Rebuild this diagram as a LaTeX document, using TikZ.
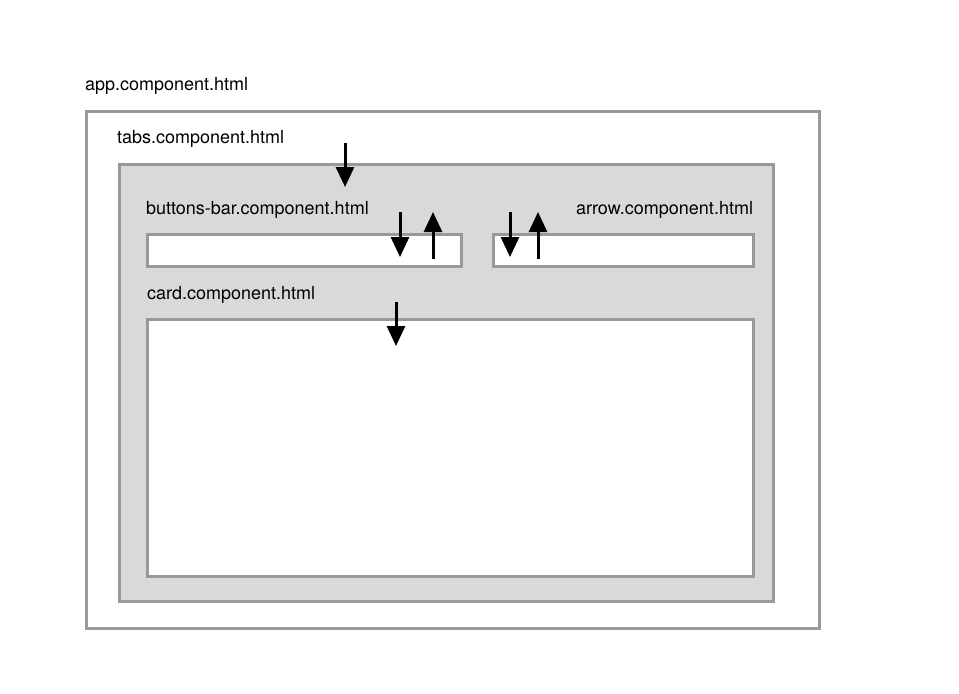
\documentclass[tikz,border=0pt]{standalone}
\usepackage{fontspec}
\setmainfont{TeX Gyre Heros}
\usetikzlibrary{arrows.meta}

\begin{document}
\begin{tikzpicture}[x=0.5pt, y=-0.5pt,
  every node/.style={inner sep=0pt, outer sep=0pt, font=\fontsize{9}{11}\selectfont},
  frame/.style={draw=black!40, line width=1.5pt, anchor=north west},
  flow/.style={line width=1.5pt, -{Triangle[length=10pt, width=9pt]}}]
  \useasboundingbox (0,0) rectangle (959,693);
  \node[frame, fill=white, minimum width=366.5pt, minimum height=258.5pt] (app) at (86,111) {};
  \node[frame, fill=black!15, minimum width=327pt, minimum height=218.5pt] (tabs) at (119,164) {};
  \node[frame, fill=white, minimum width=157pt, minimum height=16pt] (buttons) at (147,234) {};
  \node[frame, fill=white, minimum width=130pt, minimum height=16pt] (arrow) at (493,234) {};
  \node[frame, fill=white, minimum width=303pt, minimum height=128.5pt] (card) at (147,319) {};
  \node[anchor=west] (applbl) at (85,86) {app.component.html};
  \node[anchor=west] (tabslbl) at (117,139) {tabs.component.html};
  \node[anchor=west] (buttonslbl) at (146,210) {buttons-bar.component.html};
  \node[anchor=east] (arrowlbl) at (753,210) {arrow.component.html};
  \node[anchor=west] (cardlbl) at (147,295) {card.component.html};
  \coordinate (t1) at (345,143);
  \coordinate (t2) at (345,187);
  \coordinate (b1) at (400,212);
  \coordinate (b2) at (400,257);
  \coordinate (b3) at (433,259);
  \coordinate (b4) at (433,212);
  \coordinate (a1) at (510,212);
  \coordinate (a2) at (510,257);
  \coordinate (a3) at (538,259);
  \coordinate (a4) at (538,212);
  \coordinate (c1) at (396,302);
  \coordinate (c2) at (396,346);
  \draw[flow] (t1) -- (t2);
  \draw[flow] (b1) -- (b2);
  \draw[flow] (b3) -- (b4);
  \draw[flow] (a1) -- (a2);
  \draw[flow] (a3) -- (a4);
  \draw[flow] (c1) -- (c2);
\end{tikzpicture}
\end{document}
